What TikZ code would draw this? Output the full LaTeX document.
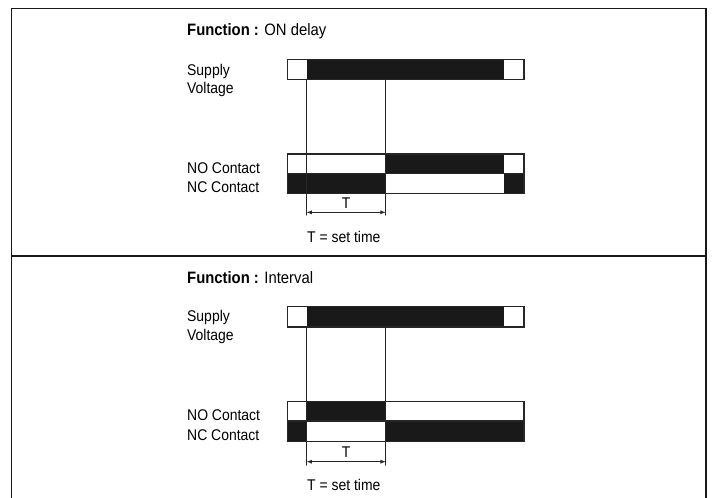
\documentclass[tikz,border=0pt]{standalone}
\usepackage{fontspec}
\setmainfont{Liberation Sans}[FakeStretch=0.9]
\usetikzlibrary{arrows,calc}
\usepackage{tkz-euclide}

\tikzset{frame/.style={line width=1.8pt,draw=black!90},
  bar/.style={line width=1.1pt,draw=black!85},
  lbl/.style={right,inner sep=0pt,font=\fontsize{15.5}{17}\selectfont},
  ttl/.style={right,inner sep=0pt,font=\fontsize{16.5}{18}\selectfont}}

\begin{document}
\begin{tikzpicture}[scale=.35146]
\tkzSetUpLine[line width=1.1pt,color=black!85]
\useasboundingbox (0,0) rectangle (71.5,49.7);

% frame and divider
\draw[frame] (1.15,-0.65) rectangle (70.6,48.85);
\draw[frame] (1.15,24.1) -- (70.6,24.1);

%%% ON delay
\tkzDefPoints{18.7/46.6/Fa,18.7/42.6/Sa,18.7/40.8/Va,18.7/32.9/Oa,18.7/31.0/Ca,
  30.67/41.75/Aa,30.67/28.2/Ba,38.57/41.75/Da,38.57/28.2/Ea,
  30.67/28.47/Ta,38.57/28.47/Ua,34.62/29.4/La,30.7/26.0/Ka}

\fill[black!90] (30.67,41.75) rectangle (50.43,43.75);
\draw[bar] (28.73,41.75) rectangle (52.4,43.75);

\fill[black!90] (38.57,32.37) rectangle (50.43,34.3);
\fill[black!90] (28.73,30.37) rectangle (38.57,32.37);
\fill[black!90] (50.43,30.37) rectangle (52.4,32.37);
\draw[bar] (28.73,30.37) rectangle (52.4,34.3);
\draw[bar] (28.73,32.37) -- (52.4,32.37);

\tkzDrawSegments(Aa,Ba Da,Ea)
\tkzDrawSegments[line width=.8pt,latex-latex](Ta,Ua)

\tkzLabelPoint[ttl](Fa){\textbf{Function :} ON delay}
\tkzLabelPoint[lbl](Sa){Supply}
\tkzLabelPoint[lbl](Va){Voltage}
\tkzLabelPoint[lbl](Oa){NO Contact}
\tkzLabelPoint[lbl](Ca){NC Contact}
\tkzLabelPoint[lbl,anchor=center](La){T}
\tkzLabelPoint[lbl](Ka){T = set time}

%%% Interval
\tkzDefPoints{18.7/21.9/Fb,18.7/17.93/Sb,18.7/16.1/Vb,18.7/8.2/Ob,18.7/6.2/Cb,
  30.67/17.0/Ab,30.67/3.2/Bb,38.57/17.0/Db,38.57/3.2/Eb,
  30.67/3.53/Tb,38.57/3.53/Ub,34.62/4.53/Lb,30.7/1.2/Kb}

\fill[black!90] (30.67,17.0) rectangle (50.43,19.03);
\draw[bar] (28.73,17.0) rectangle (52.4,19.03);

\fill[black!90] (30.67,7.6) rectangle (38.57,9.53);
\fill[black!90] (28.73,5.53) rectangle (30.67,7.6);
\fill[black!90] (38.57,5.53) rectangle (52.4,7.6);
\draw[bar] (28.73,5.53) rectangle (52.4,9.53);
\draw[bar] (28.73,7.6) -- (52.4,7.6);

\tkzDrawSegments(Ab,Bb Db,Eb)
\tkzDrawSegments[line width=.8pt,latex-latex](Tb,Ub)

\tkzLabelPoint[ttl](Fb){\textbf{Function :} Interval}
\tkzLabelPoint[lbl](Sb){Supply}
\tkzLabelPoint[lbl](Vb){Voltage}
\tkzLabelPoint[lbl](Ob){NO Contact}
\tkzLabelPoint[lbl](Cb){NC Contact}
\tkzLabelPoint[lbl,anchor=center](Lb){T}
\tkzLabelPoint[lbl](Kb){T = set time}

\end{tikzpicture}
\end{document}
